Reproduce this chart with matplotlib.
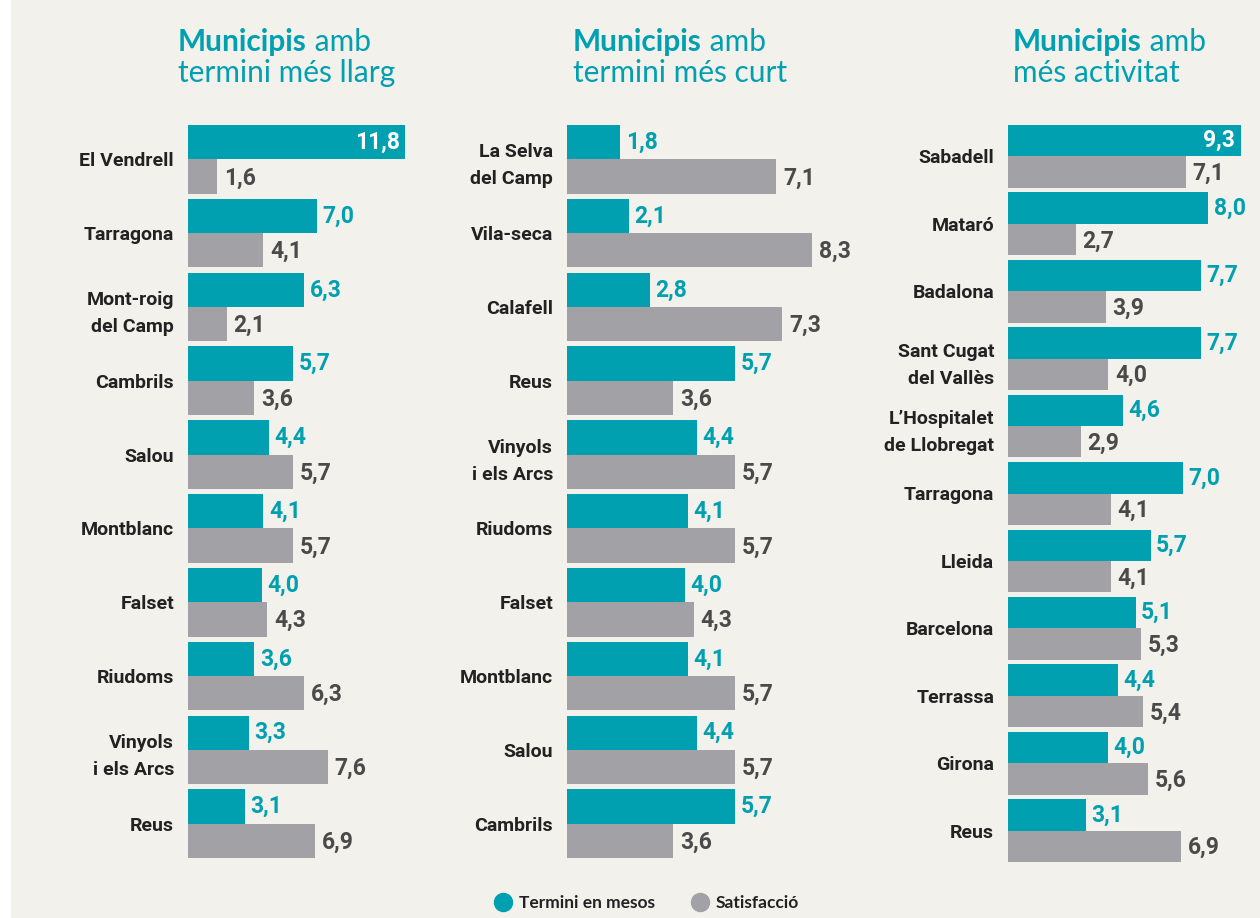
import matplotlib.pyplot as plt
from matplotlib.lines import Line2D
from matplotlib.patches import Rectangle

TEAL = '#00a0b0'
GRAY = '#a2a2a6'
BG = '#f2f1eb'
DARK = '#222222'
NUM_GRAY = '#4a4a4a'
NARROW = ['Roboto', 'DejaVu Sans']

# --- data ---
llarg_names = ['El Vendrell', 'Tarragona', 'Mont-roig\ndel Camp', 'Cambrils', 'Salou',
               'Montblanc', 'Falset', 'Riudoms', 'Vinyols\ni els Arcs', 'Reus']
llarg_termini = [11.8, 7.0, 6.3, 5.7, 4.4, 4.1, 4.0, 3.6, 3.3, 3.1]
llarg_satisf = [1.6, 4.1, 2.1, 3.6, 5.7, 5.7, 4.3, 6.3, 7.6, 6.9]

curt_names = ['La Selva\ndel Camp', 'Vila-seca', 'Calafell', 'Reus', 'Vinyols\ni els Arcs',
              'Riudoms', 'Falset', 'Montblanc', 'Salou', 'Cambrils']
curt_termini = [1.8, 2.1, 2.8, 5.7, 4.4, 4.1, 4.0, 4.1, 4.4, 5.7]
curt_satisf = [7.1, 8.3, 7.3, 3.6, 5.7, 5.7, 4.3, 5.7, 5.7, 3.6]

activ_names = ['Sabadell', 'Mataró', 'Badalona', 'Sant Cugat\ndel Vallès',
               'L’Hospitalet\nde Llobregat', 'Tarragona', 'Lleida', 'Barcelona',
               'Terrassa', 'Girona', 'Reus']
activ_termini = [9.3, 8.0, 7.7, 7.7, 4.6, 7.0, 5.7, 5.1, 4.4, 4.0, 3.1]
activ_satisf = [7.1, 2.7, 3.9, 4.0, 2.9, 4.1, 4.1, 5.3, 5.4, 5.6, 6.9]

W, H = 1260, 918
fig = plt.figure(figsize=(W / 100, H / 100), dpi=100, facecolor=BG)
fig.add_artist(Rectangle((0, 0), 11 / W, 1, transform=fig.transFigure,
                         facecolor='white', edgecolor='none'))


def fmt(v):
    return f'{v:.1f}'.replace('.', ',')


def panel(x0, y_top, y_bot, width_px, px_per_unit, names, termini, satisf, gap=0.07):
    n = len(names)
    ax = fig.add_axes([x0 / W, 1 - y_bot / H, width_px / W, (y_bot - y_top) / H])
    ax.set_facecolor('none')
    xmax = width_px / px_per_unit
    bh = (1 - gap) / 2
    ys_t = [i + bh / 2 for i in range(n)]
    ys_s = [i + bh * 1.5 for i in range(n)]
    ax.barh(ys_t, termini, height=bh, color=TEAL, edgecolor='none')
    ax.barh(ys_s, satisf, height=bh, color=GRAY, edgecolor='none')
    for y, v in zip(ys_t, termini):
        if v > 0.85 * xmax:
            ax.annotate(fmt(v), (v, y), xytext=(-4, 0), textcoords='offset points',
                        ha='right', va='center', color='white', fontsize=16.5,
                        fontweight='bold', family=NARROW)
        else:
            ax.annotate(fmt(v), (v, y), xytext=(4, 0), textcoords='offset points',
                        ha='left', va='center', color=TEAL, fontsize=16.5,
                        fontweight='bold', family=NARROW)
    for y, v in zip(ys_s, satisf):
        ax.annotate(fmt(v), (v, y), xytext=(5, -1), textcoords='offset points',
                    ha='left', va='center', color=NUM_GRAY, fontsize=16.5,
                    fontweight='bold', family=NARROW)
    ax.set_xlim(0, xmax)
    ax.set_ylim(n - gap, 0)
    ax.set_yticks([i + bh for i in range(n)])
    ax.set_yticklabels(names, fontsize=14, fontweight='bold', color=DARK,
                       family=NARROW, linespacing=1.65)
    ax.tick_params(axis='y', length=0, pad=10)
    ax.set_xticks([])
    for s in ax.spines.values():
        s.set_visible(False)
    return ax


panel(188, 125, 858, 240, 18.4, llarg_names, llarg_termini, llarg_satisf)
panel(567, 125, 858, 300, 29.5, curt_names, curt_termini, curt_satisf)
panel(1008, 125, 862, 252, 25.0, activ_names, activ_termini, activ_satisf)

# titles: bold "Municipis" + regular rest
titles = [(178, 'termini més llarg'), (573, 'termini més curt'), (1013, 'més activitat')]
fig.canvas.draw()
renderer = fig.canvas.get_renderer()
for x, line2 in titles:
    t = fig.text(x / W, 1 - 51 / H, 'Municipis', fontsize=21.5, fontweight='bold',
                 color=TEAL, family='Lato', va='baseline', ha='left')
    bb = t.get_window_extent(renderer)
    fig.text(bb.x1 / W, 1 - 51 / H, ' amb', fontsize=21.5, color=TEAL, family='Lato',
             va='baseline', ha='left')
    fig.text(x / W, 1 - 82 / H, line2, fontsize=21.5, color=TEAL, family='Lato',
             va='baseline', ha='left')

handles = [Line2D([], [], marker='o', ls='none', color=TEAL, markersize=13),
           Line2D([], [], marker='o', ls='none', color=GRAY, markersize=13)]
leg = fig.legend(handles, ['Termini en mesos', 'Satisfacció'], ncol=2, frameon=False,
                 loc='center', bbox_to_anchor=(646 / W, 1 - 903 / H),
                 prop={'family': 'Lato', 'weight': 'bold', 'size': 12.5},
                 handletextpad=0.3, columnspacing=2.0, handlelength=1.2)
for txt in leg.get_texts():
    txt.set_color(DARK)

fig.savefig('out.png', dpi=100, facecolor=BG)
